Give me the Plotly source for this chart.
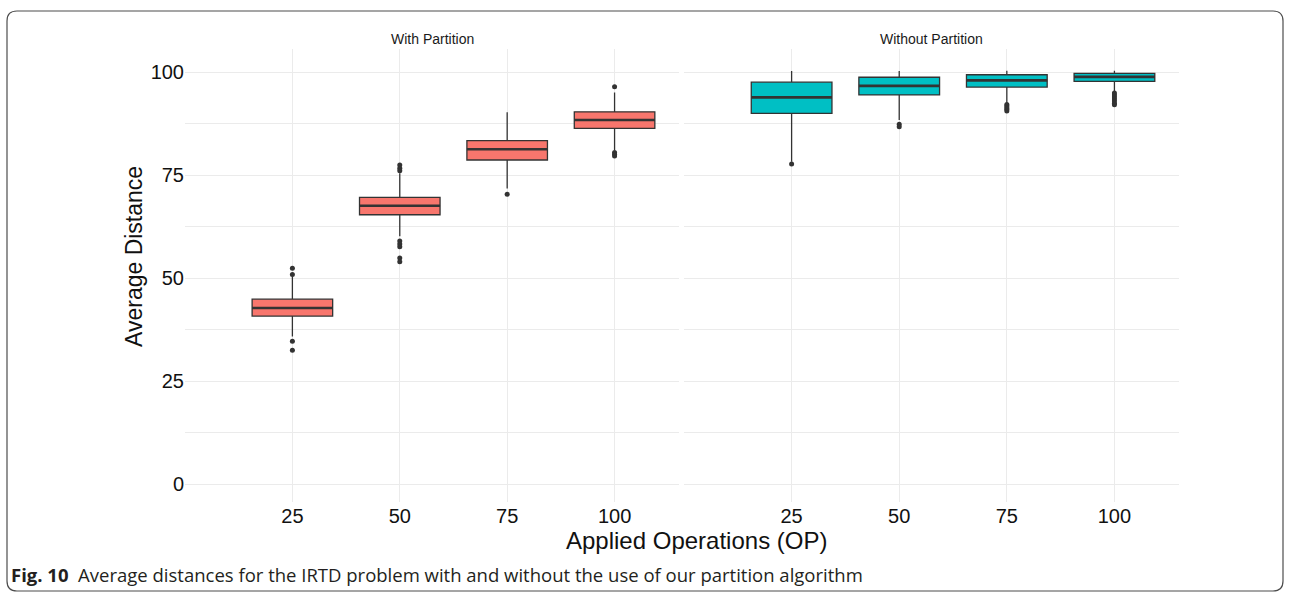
import plotly.graph_objects as go

# ---------------- data ----------------
categories = ["25", "50", "75", "100"]
positions = [1, 2, 3, 4]

# With Partition
wp_q1 = [40.8, 65.4, 78.7, 86.4]
wp_median = [42.75, 67.6, 81.3, 88.4]
wp_q3 = [44.9, 69.6, 83.4, 90.4]
wp_low = [35.8, 60.2, 71.8, 81.1]
wp_high = [50.4, 75.5, 90.3, 95.1]
wp_out_x = ["25", "25", "25", "25", "50", "50", "50", "50", "50", "50", "50", "50",
            "75", "100", "100", "100", "100"]
wp_out_y = [52.4, 50.9, 34.7, 32.5, 77.5, 76.7, 76.1, 59.0, 58.3, 57.6, 54.9, 54.0,
            70.4, 96.5, 80.5, 80.1, 79.7]

# Without Partition
wo_q1 = [90.0, 94.5, 96.4, 97.8]
wo_median = [93.9, 96.7, 98.05, 98.9]
wo_q3 = [97.6, 98.8, 99.4, 99.75]
wo_low = [78.3, 88.4, 92.5, 95.3]
wo_high = [100.3, 100.3, 100.4, 100.4]
wo_out_x = ["25", "50", "50", "75", "75", "75", "75", "75",
            "100", "100", "100", "100", "100", "100", "100"]
wo_out_y = [77.7, 87.4, 86.8, 92.2, 91.8, 91.4, 91.0, 90.6,
            95.0, 94.5, 94.0, 93.5, 93.0, 92.5, 92.1]

panel_titles = ["With Partition", "Without Partition"]
x_title = "Applied Operations (OP)"
y_title = "Average Distance"
caption_bold = "Fig. 10"
caption_text = "Average distances for the IRTD problem with and without the use of our partition algorithm"

# ---------------- layout helpers ----------------
W, H = 1290, 595
def px(x):
    return x / W
def py(y):
    return 1 - y / H

BOX_W = 0.75
LINE = "#333333"
FONT = "Liberation Sans, Arial, sans-serif"
pos_of = dict(zip(categories, positions))

fig = go.Figure()

def add_panel(q1, med, q3, lo, hi, out_x, out_y, color, xa, ya):
    fig.add_trace(go.Box(
        x=positions, q1=q1, median=med, q3=q3, lowerfence=lo, upperfence=hi,
        width=BOX_W, fillcolor=color, line=dict(color=LINE, width=1.3),
        whiskerwidth=0, boxpoints=False, showlegend=False, hoverinfo="skip",
        xaxis=xa, yaxis=ya,
    ))
    mx, my = [], []
    for p, m in zip(positions, med):
        mx += [p - BOX_W / 2, p + BOX_W / 2, None]
        my += [m, m, None]
    fig.add_trace(go.Scatter(x=mx, y=my, mode="lines",
                             line=dict(color=LINE, width=2.6),
                             showlegend=False, hoverinfo="skip", xaxis=xa, yaxis=ya))
    fig.add_trace(go.Scatter(x=[pos_of[c] for c in out_x], y=out_y, mode="markers",
                             marker=dict(color=LINE, size=5),
                             showlegend=False, hoverinfo="skip", xaxis=xa, yaxis=ya))

add_panel(wp_q1, wp_median, wp_q3, wp_low, wp_high, wp_out_x, wp_out_y, "#F8766D", "x", "y")
add_panel(wo_q1, wo_median, wo_q3, wo_low, wo_high, wo_out_x, wo_out_y, "#00BFC4", "x2", "y2")

GRID = "#EBEBEB"
xcommon = dict(range=[0, 4.6], tickvals=positions, ticktext=categories,
               showgrid=True, gridcolor=GRID, gridwidth=1, zeroline=False,
               showline=False, ticks="", tickfont=dict(family=FONT, size=20, color="#111111"))
ycommon = dict(range=[-4.37, 105.66], tickvals=[0, 25, 50, 75, 100],
               showgrid=True, gridcolor=GRID, gridwidth=1, zeroline=False, showline=False,
               ticks="", minor=dict(tickvals=[12.5, 37.5, 62.5, 87.5], showgrid=True,
                                    gridcolor=GRID, gridwidth=1),
               domain=[py(502), py(49)])

fig.update_layout(
    width=W, height=H,
    margin=dict(l=0, r=0, t=0, b=0),
    paper_bgcolor="white", plot_bgcolor="white",
    showlegend=False,
    xaxis=dict(domain=[px(185), px(679)], anchor="y", **xcommon),
    xaxis2=dict(domain=[px(684), px(1179)], anchor="y2", **xcommon),
    yaxis=dict(anchor="x", tickfont=dict(family=FONT, size=20, color="#111111"), **ycommon),
    yaxis2=dict(anchor="x2", matches="y", showticklabels=False, **ycommon),
)

# panel strip titles
for title, (a, b) in zip(panel_titles, [(185, 679), (684, 1179)]):
    fig.add_annotation(x=px((a + b) / 2), y=py(39), xref="paper", yref="paper",
                       text=title, showarrow=False, xanchor="center", yanchor="middle",
                       font=dict(family=FONT, size=14, color="#1a1a1a"))

# axis titles
fig.add_annotation(x=px(696), y=py(540), xref="paper", yref="paper", text=x_title,
                   showarrow=False, xanchor="center", yanchor="middle",
                   font=dict(family=FONT, size=24, color="#111111"))
fig.add_annotation(x=px(134), y=py(257), xref="paper", yref="paper", text=y_title,
                   showarrow=False, xanchor="center", yanchor="middle", textangle=-90,
                   font=dict(family=FONT, size=23, color="#111111"))

# caption
fig.add_annotation(x=px(9), y=py(574), xref="paper", yref="paper",
                   text="<b>" + caption_bold + "</b>  " + caption_text,
                   showarrow=False, xanchor="left", yanchor="middle",
                   font=dict(family="Open Sans, sans-serif", size=18.5, color="#231f20"))

# rounded frame
x0, y0, x1, y1, r = 7, 11, 1283, 591, 10
path = (f"M {px(x0 + r)},{py(y0)} L {px(x1 - r)},{py(y0)} "
        f"Q {px(x1)},{py(y0)} {px(x1)},{py(y0 + r)} "
        f"L {px(x1)},{py(y1 - r)} Q {px(x1)},{py(y1)} {px(x1 - r)},{py(y1)} "
        f"L {px(x0 + r)},{py(y1)} Q {px(x0)},{py(y1)} {px(x0)},{py(y1 - r)} "
        f"L {px(x0)},{py(y0 + r)} Q {px(x0)},{py(y0)} {px(x0 + r)},{py(y0)} Z")
fig.add_shape(type="path", path=path, xref="paper", yref="paper",
              line=dict(color="#4d4d4d", width=1.2), fillcolor="rgba(0,0,0,0)")

fig.write_html("out.html", config={"displayModeBar": False},
               post_script="document.body.style.margin='0';document.body.style.overflow='hidden';")
